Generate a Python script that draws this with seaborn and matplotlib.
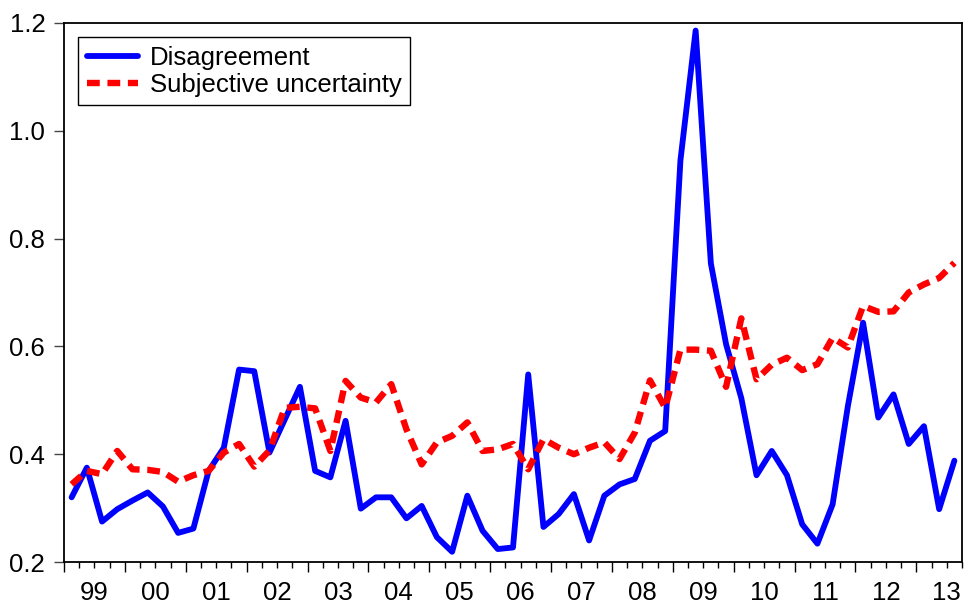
import numpy as np
import pandas as pd
import matplotlib
matplotlib.use("Agg")
import matplotlib.pyplot as plt
import seaborn as sns

# quarterly observations, 1999Q1 - 2013Q3
start_year = 1999
disagreement = [
    0.320, 0.375, 0.275, 0.298, 0.314, 0.329, 0.303, 0.254, 0.262, 0.369,
    0.412, 0.557, 0.554, 0.403, 0.464, 0.525, 0.369, 0.357, 0.462, 0.299,
    0.320, 0.320, 0.281, 0.304, 0.246, 0.219, 0.323, 0.258, 0.224, 0.227,
    0.548, 0.265, 0.289, 0.326, 0.240, 0.323, 0.344, 0.354, 0.425, 0.443,
    0.945, 1.186, 0.754, 0.604, 0.504, 0.361, 0.406, 0.361, 0.270, 0.234,
    0.307, 0.489, 0.644, 0.468, 0.511, 0.419, 0.452, 0.298, 0.388,
]
subjective = [
    0.344, 0.369, 0.363, 0.406, 0.372, 0.371, 0.367, 0.349, 0.361, 0.369,
    0.403, 0.419, 0.377, 0.407, 0.486, 0.488, 0.485, 0.406, 0.536, 0.505,
    0.496, 0.530, 0.446, 0.381, 0.422, 0.434, 0.459, 0.406, 0.409, 0.419,
    0.372, 0.428, 0.412, 0.400, 0.412, 0.422, 0.391, 0.440, 0.537, 0.486,
    0.594, 0.594, 0.592, 0.525, 0.652, 0.539, 0.566, 0.579, 0.556, 0.567,
    0.616, 0.598, 0.675, 0.664, 0.665, 0.700, 0.715, 0.727, 0.755,
]
series_names = ["Disagreement", "Subjective uncertainty"]
year_labels = ["99", "00", "01", "02", "03", "04", "05", "06", "07",
               "08", "09", "10", "11", "12", "13"]

n = len(disagreement)
t = start_year + (np.arange(n) + 0.5) / 4

df = pd.DataFrame({
    "t": np.concatenate([t, t]),
    "value": disagreement + subjective,
    "series": [series_names[0]] * n + [series_names[1]] * n,
})

sns.set_style("ticks")
plt.rcParams["font.family"] = ["Liberation Sans", "DejaVu Sans"]
plt.rcParams["text.color"] = "black"
fs = 18.5

fig = plt.figure(figsize=(9.65, 6.06), dpi=100)
ax = fig.add_axes([64 / 965, 44 / 606, 898 / 965, 539 / 606])

sns.lineplot(
    data=df, x="t", y="value", hue="series", style="series",
    hue_order=series_names, style_order=series_names,
    palette={series_names[0]: "#0000FF", series_names[1]: "#FF0000"},
    dashes={series_names[0]: "", series_names[1]: (2.0, 1.2)},
    linewidth=4.2, legend=False, ax=ax,
)
ax.lines[0].set_solid_capstyle("round")
ax.lines[0].set_solid_joinstyle("round")
ax.lines[1].set_linewidth(4.6)
ax.lines[1].set_dash_capstyle("butt")

ax.set_xlim(start_year, start_year + n / 4)
ax.set_ylim(0.2, 1.2)
ax.set_yticks([0.2, 0.4, 0.6, 0.8, 1.0, 1.2])
ax.set_yticklabels(["0.2", "0.4", "0.6", "0.8", "1.0", "1.2"])

# year boundaries as long ticks, quarters as short ticks, year labels at mid-year
years = np.arange(start_year, start_year + len(year_labels))
ax.set_xticks(years)
ax.set_xticklabels([""] * len(years))
quarters = [y + q / 4 for y in years for q in (1, 2, 3) if y + q / 4 <= start_year + n / 4]
minor_labels = [year_labels[int(q) - start_year] if abs(q % 1 - 0.5) < 1e-6 else "" for q in quarters]
ax.set_xticks(quarters, minor=True)
ax.set_xticklabels(minor_labels, minor=True)

ax.tick_params(axis="x", which="major", direction="out", length=7.5, width=1.0, color="black")
ax.tick_params(axis="x", which="minor", direction="out", length=4, width=1.0, color="black",
               labelsize=fs, labelcolor="black", pad=10)
ax.tick_params(axis="y", direction="out", length=7.5, width=1.0, color="#444444",
               labelsize=fs, labelcolor="black", pad=6)
ax.set_xlabel("")
ax.set_ylabel("")

for side in ["top", "bottom", "left", "right"]:
    ax.spines[side].set_visible(True)
    ax.spines[side].set_color("black")
    ax.spines[side].set_linewidth(1.3)

leg = ax.legend(ax.lines[:2], series_names, loc="upper left", fontsize=fs,
                handlelength=2.0, handletextpad=0.45, labelspacing=0.12,
                borderaxespad=0.55, borderpad=0.33, fancybox=False, framealpha=1,
                labelcolor="black")
leg.get_frame().set_edgecolor("black")
leg.get_frame().set_linewidth(1.0)

fig.savefig("out.png", dpi=100)
